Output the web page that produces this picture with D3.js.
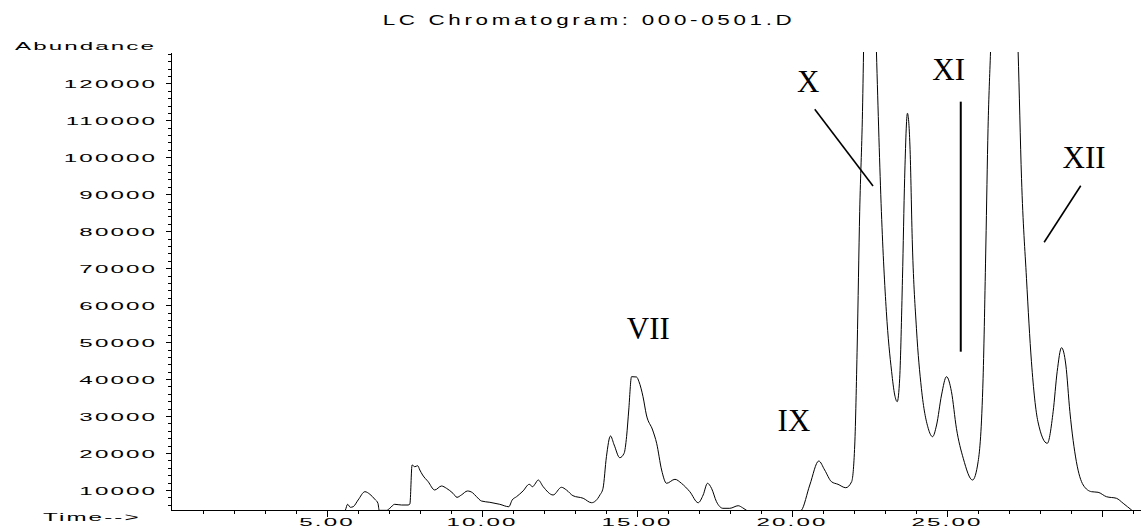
<!DOCTYPE html>
<html>
<head>
<meta charset="utf-8">
<script src="https://cdn.jsdelivr.net/npm/d3@7"></script>
<style>
  body { margin: 0; background: #fff; }
  svg { display: block; }
</style>
</head>
<body>
<div id="chart"></div>
<script>
const title = "LC Chromatogram: 000-0501.D";

// retention time (min) and abundance
const times = [
  5.55, 5.61, 5.68, 5.77, 5.86, 6.02, 6.24, 6.40, 6.56, 6.66,
  6.70, 6.94, 7.04, 7.20, 7.42, 7.63, 7.69, 7.76, 7.85, 7.94,
  8.01, 8.10, 8.28, 8.49, 8.71, 8.87, 9.08, 9.21, 9.35, 9.55,
  9.71, 9.84, 10.00, 10.27, 10.59, 10.88, 10.99, 11.13, 11.34, 11.54,
  11.65, 11.72, 11.83, 11.99, 12.31, 12.58, 12.74, 12.95, 13.28, 13.55,
  13.82, 13.92, 14.03, 14.16, 14.28, 14.46, 14.60, 14.68, 14.75, 14.84,
  15.00, 15.08, 15.21, 15.32, 15.52, 15.65, 15.81, 15.97, 16.24, 16.45,
  16.72, 16.99, 17.15, 17.29, 17.42, 17.58, 17.79, 18.01, 18.28, 18.42,
  18.55, 18.70, 20.10, 20.32, 20.59, 20.88, 21.07, 21.29, 21.50, 21.75,
  21.94, 22.04, 22.12, 22.20, 22.29, 22.38, 22.47, 22.61, 22.74, 22.90,
  23.06, 23.23, 23.33, 23.41, 23.49, 23.58, 23.65, 23.74, 23.82, 23.90,
  24.03, 24.19, 24.41, 24.55, 24.68, 24.84, 25.00, 25.16, 25.32, 25.54,
  25.84, 26.02, 26.18, 26.27, 26.34, 26.42, 26.56, 26.85, 27.14, 27.31,
  27.42, 27.58, 27.74, 27.95, 28.25, 28.44, 28.57, 28.71, 28.85, 28.98,
  29.19, 29.41, 29.68, 29.89, 30.16, 30.48, 30.70, 30.97, 31.10
];
const abundance = [
  4000, 4600, 6130, 5320, 5480, 7300, 9540, 8840, 7480, 6400,
  4500, 4500, 5050, 6130, 5940, 5940, 6210, 16760, 16300, 16570,
  15410, 14060, 12240, 10000, 11080, 10460, 9110, 8020, 8650, 9730,
  9270, 8190, 7020, 6670, 6130, 5480, 7300, 8190, 9730, 11540,
  10890, 11540, 12700, 10890, 8650, 10730, 10000, 8460, 7760, 6560,
  8650, 10460, 19010, 24610, 22170, 18740, 19930, 24420, 31640, 40650,
  40570, 39300, 35240, 30290, 26230, 22630, 15410, 11810, 12890, 11810,
  9540, 6560, 8650, 11810, 10460, 6840, 5050, 5050, 5750, 5210,
  4500, 3500, 3500, 4500, 11350, 17840, 15410, 12240, 11540, 10620,
  12240, 22170, 49220, 85280, 112330, 158800, 199900, 169600, 128560, 85280,
  58230, 42000, 35700, 33890, 40210, 67260, 94310, 111900, 103320, 76270,
  53740, 37510, 26690, 24420, 27580, 35700, 40650, 36590, 26690, 18580,
  12700, 17660, 40210, 76270, 107840, 128560, 164200, 210200, 164200, 128560,
  94310, 67260, 44700, 28470, 22630, 31180, 42000, 48490, 43810, 31180,
  17660, 11350, 9540, 9380, 8190, 7760, 6400, 4590, 3800
];

const xMinorTicks = d3.range(1, 32);
const xMajorTicks = [5, 10, 15, 20, 25, 30];
const yMajorTicks = [10000, 20000, 30000, 40000, 50000, 60000, 70000, 80000, 90000, 100000, 110000, 120000];
const yMinorTicks = d3.range(6000, 128001, 2000);

// peak names and where they sit (time, abundance)
const peakNames = ["VII", "IX", "X", "XI", "XII"];
const peakLabelTime = [15.38, 20.08, 20.54, 25.07, 29.44];
const peakLabelLevel = [50850, 26040, 117740, 120900, 97020];

// leader lines: [t1, v1, t2, v2]
const leaderLines = [
  [20.75, 112980, 22.63, 92230],
  [25.46, 115040, 25.46, 47410],
  [29.33, 92310, 28.15, 77000]
];
const leaderWidths = [1.6, 2, 1.6];

const width = 1142;
const height = 529;
const sans = "'Liberation Sans', Arial, sans-serif";

const svg = d3.select("#chart")
    .append("svg")
    .attr("width", width)
    .attr("height", height);

const x = d3.scaleLinear().domain([0, 31.25]).range([171.5, 1140.25]);
const y = d3.scaleLinear().domain([4590, 128475]).range([510, 52]);

// title
svg.append("text")
    .attr("transform", "translate(589,25) scale(1.6,1)")
    .attr("text-anchor", "middle")
    .style("font-family", sans)
    .style("font-size", "14px")
    .style("letter-spacing", "2.3px")
    .text(title);

// axis titles
svg.append("text")
    .attr("transform", "translate(156,50) scale(2.1,1)")
    .attr("text-anchor", "end")
    .style("font-family", sans)
    .style("font-size", "11.5px")
    .style("letter-spacing", "1px")
    .text("Abundance");

svg.append("text")
    .attr("transform", "translate(43,521) scale(2.1,1)")
    .style("font-family", sans)
    .style("font-size", "11.5px")
    .style("letter-spacing", "1px")
    .text("Time-->");

// clip the trace to the plot box
svg.append("clipPath")
    .attr("id", "plot-clip")
    .append("rect")
    .attr("x", 171.5)
    .attr("y", y.range()[1])
    .attr("width", width - 171.5)
    .attr("height", y.range()[0] - y.range()[1] + 0.5);

const line = d3.line()
    .x(i => x(times[i]))
    .y(i => y(abundance[i]))
    .curve(d3.curveMonotoneX);

svg.append("path")
    .datum(d3.range(times.length))
    .attr("clip-path", "url(#plot-clip)")
    .attr("fill", "none")
    .attr("stroke", "#000")
    .attr("stroke-width", 1)
    .attr("d", line);

// x axis: minor then major ticks
svg.append("g")
    .attr("transform", "translate(0,510)")
    .call(d3.axisBottom(x).tickValues(xMinorTicks).tickSize(4).tickSizeOuter(0).tickFormat(""));

const xAxis = svg.append("g")
    .attr("transform", "translate(0,510)")
    .call(d3.axisBottom(x).tickValues(xMajorTicks).tickSize(7).tickSizeOuter(0)
        .tickFormat(d => d < 30 ? d3.format(".2f")(d) : ""));
xAxis.select(".domain").remove();

// y axis
svg.append("g")
    .attr("transform", "translate(171,0)")
    .call(d3.axisLeft(y).tickValues(yMinorTicks).tickSize(3).tickSizeOuter(0).tickFormat(""));

const yAxis = svg.append("g")
    .attr("transform", "translate(171,0)")
    .call(d3.axisLeft(y).tickValues(yMajorTicks).tickSize(5).tickSizeOuter(0).tickFormat(d3.format("d")));

svg.selectAll(".domain, .tick line")
    .attr("stroke", "#000")
    .attr("shape-rendering", "crispEdges");

xAxis.selectAll(".tick text")
    .attr("y", 16.5)
    .attr("dy", 0)
    .attr("transform", "scale(2.1,1)")
    .style("font-family", sans)
    .style("font-size", "11.5px")
    .style("letter-spacing", "1px")
    .attr("fill", "#000");

yAxis.selectAll(".tick text")
    .attr("x", -14 / 2.1)
    .attr("dy", "0.35em")
    .attr("transform", "scale(2.1,1)")
    .style("font-family", sans)
    .style("font-size", "11.5px")
    .style("letter-spacing", "1px")
    .attr("fill", "#000");

// peak labels
svg.append("g")
    .selectAll("text")
    .data(peakNames)
    .enter()
    .append("text")
    .attr("x", (d, i) => x(peakLabelTime[i]))
    .attr("y", (d, i) => y(peakLabelLevel[i]))
    .attr("text-anchor", "middle")
    .style("font-family", "'Liberation Serif', 'Times New Roman', serif")
    .style("font-size", "31px")
    .text(d => d);

// leader lines
svg.append("g")
    .selectAll("line")
    .data(leaderLines)
    .enter()
    .append("line")
    .attr("x1", d => x(d[0]))
    .attr("y1", d => y(d[1]))
    .attr("x2", d => x(d[2]))
    .attr("y2", d => y(d[3]))
    .attr("stroke", "#000")
    .attr("stroke-width", (d, i) => leaderWidths[i]);
</script>
</body>
</html>
